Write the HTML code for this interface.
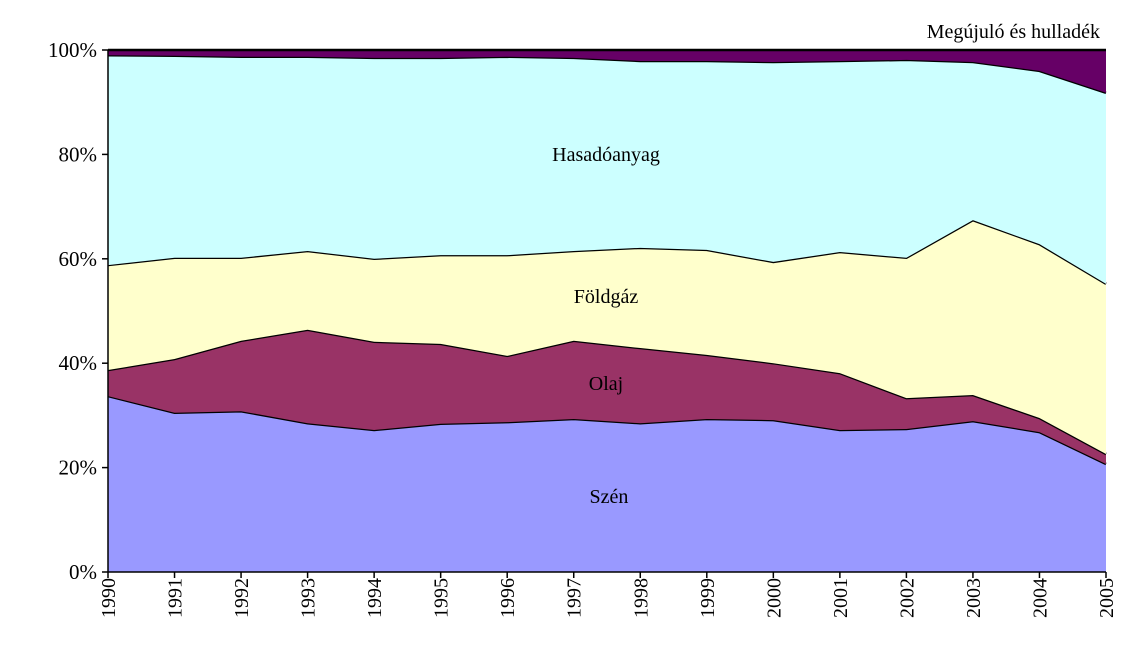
<!DOCTYPE html>
<html><head><meta charset="utf-8">
<style>
body{margin:0;background:#fff;}
svg{display:block;font-family:"Liberation Serif",serif;}
</style></head>
<body>
<svg id="chart" width="1135" height="653">
<text x="1100" y="38" font-size="20" text-anchor="end">Megújuló és hulladék</text>
<g id="areas"></g>
<g id="axes"></g>
<text x="606" y="161" font-size="20" text-anchor="middle">Hasadóanyag</text>
<text x="606" y="303" font-size="20" text-anchor="middle">Földgáz</text>
<text x="606" y="390" font-size="20" text-anchor="middle">Olaj</text>
<text x="609" y="503" font-size="20" text-anchor="middle">Szén</text>
</svg>
<script>
const years=[1990,1991,1992,1993,1994,1995,1996,1997,1998,1999,2000,2001,2002,2003,2004,2005];
const coal=[33.7,30.5,30.8,28.5,27.2,28.4,28.7,29.3,28.5,29.3,29.1,27.2,27.4,28.9,26.8,20.7];
const oil=[5.0,10.3,13.5,17.9,16.9,15.3,12.7,15.0,14.4,12.3,10.9,10.9,5.9,5.0,2.7,1.9];
const gas=[20.1,19.4,15.9,15.1,15.9,17.0,19.3,17.2,19.2,20.1,19.4,23.2,26.9,33.5,33.3,32.6];
const nuclear=[40.2,38.7,38.5,37.2,38.5,37.8,38.0,37.0,35.8,36.2,38.3,36.6,37.9,30.3,33.2,36.6];
const yTicks=["0%","20%","40%","60%","80%","100%"];
const ns="http://www.w3.org/2000/svg";
const X0=108,X1=1106,Y0=572,Y1=50;
const xs=i=>X0+(X1-X0)*i/(years.length-1);
const ys=v=>Y0-(Y0-Y1)*v/100;
const renewable=years.map((_,i)=>Math.max(0,100-coal[i]-oil[i]-gas[i]-nuclear[i]));
const series=[[coal,"#9999ff","coal-area"],[oil,"#993366","oil-area"],[gas,"#ffffcc","gas-area"],[nuclear,"#ccffff","nuclear-area"],[renewable,"#660066","renewable-area"]];
const areas=document.getElementById('areas');
let base=years.map(()=>0);
series.forEach(([vals,col,name])=>{
  const top=base.map((b,i)=>b+vals[i]);
  let d=top.map((v,i)=>(i?"L":"M")+xs(i)+","+ys(v)).join("");
  for(let i=years.length-1;i>=0;i--) d+="L"+xs(i)+","+ys(base[i]);
  d+="Z";
  const p=document.createElementNS(ns,"path");
  p.setAttribute("d",d);p.setAttribute("fill",col);
  
  
  areas.appendChild(p);
  const l=document.createElementNS(ns,"path");
  l.setAttribute("d",top.map((v,i)=>(i?"L":"M")+xs(i)+","+ys(v)).join(""));
  l.setAttribute("fill","none");l.setAttribute("stroke","#000");l.setAttribute("stroke-width","2.5");
  
  
  areas.appendChild(l);
  base=top;
});
const ax=document.getElementById('axes');
function line(x1,y1,x2,y2,name){const l=document.createElementNS(ns,"line");
l.setAttribute("x1",x1);l.setAttribute("y1",y1);l.setAttribute("x2",x2);l.setAttribute("y2",y2);
l.setAttribute("stroke","#000");l.setAttribute("stroke-width","1.5");


ax.appendChild(l);}
line(X0,Y1,X0,Y0,"y-axis");line(X0,Y0,X1,Y0,"x-axis");
yTicks.forEach((t,i)=>{const y=ys(i*20);line(X0-6,y,X0,y,"y-tick");
const tx=document.createElementNS(ns,"text");tx.setAttribute("x",97);tx.setAttribute("y",y+7);
tx.setAttribute("font-size","21");tx.setAttribute("text-anchor","end");tx.textContent=t;


ax.appendChild(tx);});
years.forEach((yr,i)=>{const x=xs(i);line(x,Y0,x,Y0+6,"x-tick");
const tx=document.createElementNS(ns,"text");
tx.setAttribute("transform","translate("+(x+7)+",578) rotate(-90)");
tx.setAttribute("font-size","20");tx.setAttribute("text-anchor","end");tx.textContent=yr;


ax.appendChild(tx);});
</script>
</body></html>
